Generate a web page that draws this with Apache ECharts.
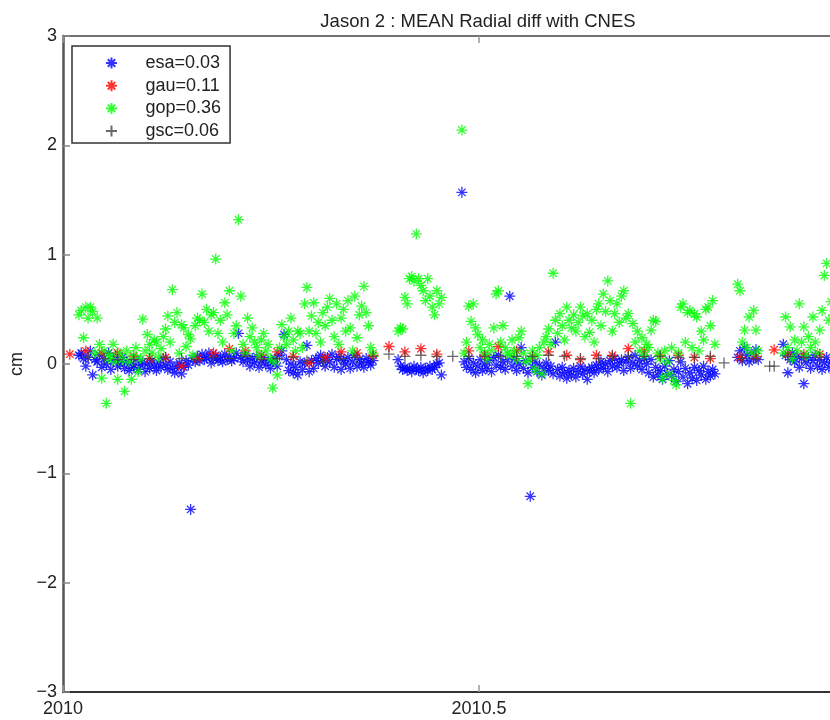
<!DOCTYPE html>
<html>
<head>
<meta charset="utf-8">
<script src="https://cdn.jsdelivr.net/npm/echarts@6.0.0/dist/echarts.min.js"></script>
<style>
  html, body { margin: 0; padding: 0; background: #fff; }
  #chart { width: 830px; height: 720px; }
</style>
</head>
<body>
<div id="chart"></div>
<script>
// days of 2010 where each daily block of esa / gop starts
const segStart = [7, 147, 175, 296, 316];

// esa (blue) daily means, one array per block
const esaVals = [
  [0.08, 0.10, 0.05, -0.02, 0.06, 0.12, -0.10, 0.04, 0.02, 0.08,
   -0.03, 0.05, 0.00, 0.10, -0.05, 0.03, 0.07, -0.02, 0.01, 0.06,
   -0.04, 0.02, -0.06, 0.00, -0.03, 0.04, -0.05, -0.01, 0.02, -0.07,
   0.00, -0.04, 0.03, -0.02, -0.06, 0.01, -0.03, 0.05, -0.01, -0.05,
   0.02, -0.04, -0.08, -0.02, 0.01, -0.09, -0.03, 0.03, -0.01, -1.33,
   0.05, 0.02, 0.07, 0.03, 0.09, 0.04, 0.06, 0.10, 0.01, 0.05,
   0.08, 0.03, 0.06, 0.02, 0.09, 0.04, 0.07, 0.03, 0.05, 0.10,
   0.28, 0.06, 0.02, 0.08, 0.04, -0.02, 0.05, 0.01, 0.07, -0.03,
   0.02, 0.06, -0.01, 0.03, -0.04, 0.02, 0.05, -0.02, 0.08, 0.12,
   0.27, 0.04, -0.06, 0.00, -0.08, -0.03, -0.10, 0.02, -0.05, 0.01,
   0.17, -0.07, 0.03, -0.04, 0.05, 0.01, 0.08, 0.03, -0.02, 0.06,
   0.02, 0.09, -0.03, 0.04, 0.07, -0.05, 0.03, 0.00, 0.06, -0.04,
   0.02, 0.08, -0.02, 0.04, 0.01, -0.03, 0.05, 0.02, -0.01, 0.03],
  [0.04, -0.02, -0.05, -0.03, -0.06, -0.04, -0.07, -0.02, -0.05, -0.06,
   -0.03, -0.08, -0.04, -0.06, -0.02, -0.05, -0.03, 0.00, 0.01, -0.10],
  [1.57, 0.02, -0.03, 0.05, -0.05, 0.01, -0.08, -0.02, 0.04, -0.06,
   0.00, -0.04, 0.03, -0.07, 0.06, -0.01, 0.08, -0.03, 0.02, -0.05,
   0.04, 0.62, -0.02, 0.05, -0.06, 0.00, 0.15, -0.04, 0.03, -0.08,
   -1.21, -0.03, 0.02, -0.07, -0.01, -0.10, -0.04, 0.01, -0.06, -0.02,
   -0.09, 0.20, -0.05, -0.11, -0.03, -0.08, -0.13, -0.06, -0.10, -0.04,
   -0.12, -0.07, -0.02, -0.09, -0.05, -0.14, -0.06, -0.03, -0.08, -0.01,
   -0.05, 0.02, -0.04, 0.00, -0.07, 0.03, -0.02, 0.05, -0.03, 0.01,
   0.04, -0.06, 0.02, 0.06, -0.04, 0.01, 0.08, -0.02, 0.03, -0.05,
   0.05, 0.00, -0.08, 0.04, -0.12, -0.03, -0.10, -0.06, -0.14, -0.02,
   -0.09, 0.03, -0.11, -0.05, -0.16, -0.07, 0.02, -0.12, -0.04, -0.18,
   -0.08, -0.13, -0.03, -0.15, -0.06, -0.10, -0.02, -0.14, -0.07, -0.11,
   -0.05, -0.09],
  [0.06, 0.12, 0.03, 0.15, 0.08, 0.02, 0.10, 0.05, 0.13, 0.04],
  [0.18, 0.08, -0.08, 0.04, 0.10, 0.02, 0.07, -0.03, 0.05, -0.18,
   0.01, 0.06, -0.04, 0.03, 0.08, -0.02, 0.04, -0.05, 0.01, 0.06,
   -0.03, 0.02, -0.06, 0.03, 0.00]
];

// gop (green) daily means, same blocks
const gopVals = [
  [0.45, 0.49, 0.24, 0.52, 0.42, 0.52, 0.48, 0.10, 0.42, 0.18,
   -0.13, 0.12, -0.36, 0.05, 0.08, 0.18, 0.02, -0.14, 0.10, 0.04,
   -0.25, 0.12, 0.02, -0.14, 0.08, 0.15, -0.07, 0.05, 0.41, 0.12,
   0.27, 0.18, 0.10, 0.22, 0.20, 0.06, 0.14, 0.25, 0.32, 0.44,
   0.20, 0.68, 0.38, 0.47, 0.10, 0.36, 0.33, 0.16, 0.27, 0.23,
   0.08, 0.35, 0.42, 0.40, 0.64, 0.38, 0.50, 0.30, 0.45, 0.47,
   0.96, 0.28, 0.40, 0.20, 0.56, 0.45, 0.67, 0.12, 0.28, 0.35,
   1.32, 0.62, 0.18, 0.10, 0.42, 0.25, 0.33, 0.20, 0.15, 0.08,
   0.22, 0.28, 0.12, 0.18, 0.05, -0.22, 0.02, -0.10, 0.15, 0.36,
   0.25, 0.18, 0.30, 0.42, 0.22, 0.12, 0.30, 0.28, 0.15, 0.55,
   0.70, 0.30, 0.44, 0.56, 0.28, 0.38, 0.20, 0.47, 0.35, 0.52,
   0.60, 0.40, 0.25, 0.55, 0.18, 0.42, 0.50, 0.30, 0.58, 0.33,
   0.12, 0.62, 0.24, 0.45, 0.53, 0.71, 0.47, 0.35, 0.15, 0.10],
  [0.30, 0.33, 0.32, 0.61, 0.55, 0.78, 0.80, 0.76, 1.19, 0.78,
   0.72, 0.67, 0.58, 0.78, 0.62, 0.52, 0.45, 0.67, 0.55, 0.61],
  [2.14, 0.10, 0.20, 0.53, 0.39, 0.55, 0.33, 0.27, 0.15, 0.22,
   0.10, 0.05, 0.18, 0.12, 0.33, 0.64, 0.67, 0.20, 0.35, 0.15,
   0.10, 0.08, 0.22, 0.12, 0.05, 0.24, 0.30, 0.10, 0.02, -0.18,
   0.05, 0.12, -0.05, 0.08, 0.15, -0.09, 0.20, 0.25, 0.32, 0.18,
   0.83, 0.40, 0.28, 0.46, 0.35, 0.22, 0.52, 0.40, 0.33, 0.45,
   0.30, 0.38, 0.52, 0.44, 0.25, 0.46, 0.29, 0.40, 0.20, 0.50,
   0.55, 0.35, 0.64, 0.48, 0.76, 0.58, 0.30, 0.46, 0.55, 0.38,
   0.62, 0.67, 0.42, 0.46, -0.36, 0.37, 0.20, 0.30, 0.12, 0.24,
   0.08, 0.18, 0.15, 0.31, 0.40, 0.39, 0.10, 0.05, -0.13, 0.12,
   0.02, -0.09, 0.15, -0.15, -0.19, 0.10, 0.52, 0.55, 0.20, 0.47,
   0.49, 0.15, 0.46, 0.43, 0.12, 0.30, 0.22, 0.50, 0.52, 0.35,
   0.58, 0.18],
  [0.73, 0.67, 0.20, 0.31, 0.15, 0.43, 0.10, 0.49, 0.31, 0.12],
  [0.10, 0.43, 0.15, 0.34, 0.05, 0.22, 0.12, 0.55, 0.20, 0.34,
   0.08, 0.25, 0.15, 0.43, 0.20, 0.10, 0.31, 0.49, 0.81, 0.92,
   0.40, 0.57, 0.45, 0.60, 0.50]
];

// gau (red), weekly
const gauDays = [3, 10, 17, 24, 31, 38, 45, 52, 59, 66, 73, 80, 87, 94, 101, 108, 115, 122, 129, 136,
  143, 150, 157, 164, 178, 185, 191, 199, 206, 213, 221, 227, 234, 241, 248, 255, 262, 270, 277, 284,
  297, 304, 312, 318, 325, 332, 339];
const gauVals = [0.09, 0.12, 0.10, 0.10, 0.07, 0.05, 0.06, -0.02, 0.05, 0.10, 0.14, 0.12, 0.08, 0.11, 0.07, 0.01, 0.06, 0.11, 0.10, 0.08,
  0.16, 0.11, 0.14, 0.09, 0.12, 0.08, 0.16, 0.12, 0.07, 0.11, 0.08, 0.04, 0.08, 0.08, 0.14, 0.12, 0.08, 0.08, 0.06, 0.05,
  0.06, 0.07, 0.13, 0.09, 0.09, 0.09, 0.10];

// gsc (black +), weekly
const gscDays = [11, 18, 24, 31, 38, 45, 52, 59, 66, 73, 80, 87, 94, 101, 107, 114, 122, 129, 136, 143,
  150, 157, 164, 171, 178, 185, 192, 199, 206, 213, 220, 227, 235, 241, 248, 255, 262, 270, 277, 284,
  290, 298, 304, 310, 312, 318, 325, 332, 339];
const gscVals = [0.06, 0.05, 0.04, 0.04, 0.05, 0.06, 0.05, 0.04, 0.06, 0.05, 0.07, 0.04, 0.05, 0.06, 0.03, 0.02, 0.05, 0.06, 0.07, 0.09,
  0.07, 0.08, 0.07, 0.07, 0.07, 0.07, 0.07, 0.07, 0.07, 0.08, 0.07, 0.05, 0.05, 0.07, 0.07, 0.07, 0.07, 0.06, 0.06, 0.07,
  0.01, 0.05, 0.05, -0.02, -0.02, 0.07, 0.06, 0.06, 0.06];

const seriesNames = ['esa=0.03', 'gau=0.11', 'gop=0.36', 'gsc=0.06'];

const toYear = d => 2010 + d / 365;

function fromBlocks(vals) {
  const out = [];
  segStart.forEach((s, k) => {
    vals[k].forEach((v, i) => out.push([toYear(s + i), v]));
  });
  return out;
}
function fromDays(days, vals) {
  return days.map((d, i) => [toYear(d), vals[i]]);
}

const STAR = 'path://M5,0L5,10M0,5L10,5M1.6,1.6L8.4,8.4M1.6,8.4L8.4,1.6';
const PLUS = 'path://M5,0L5,10M0,5L10,5';
const FONT = 'Liberation Sans';

function marker(name, data, sym, col) {
  return {
    name: name,
    type: 'scatter',
    data: data,
    symbol: sym,
    symbolSize: 11,
    silent: true,
    itemStyle: { color: col, borderColor: col, borderWidth: 1.3, opacity: 0.8 }
  };
}

var myChart = echarts.init(document.getElementById('chart'));
myChart.setOption({
  animation: false,
  backgroundColor: '#fff',
  title: {
    text: 'Jason 2 : MEAN Radial diff with CNES',
    left: 473,
    top: 7,
    textAlign: 'center',
    textStyle: { fontFamily: FONT, fontSize: 18.5, fontWeight: 'normal', color: '#222' }
  },
  legend: {
    data: seriesNames,
    orient: 'vertical',
    left: 72,
    top: 46,
    padding: [8, 9, 3, 33],
    itemWidth: 58,
    itemHeight: 11,
    itemGap: 4.7,
    borderColor: '#333',
    borderWidth: 1.5,
    backgroundColor: '#fff',
    selectedMode: false,
    textStyle: { fontFamily: FONT, fontSize: 18, color: '#222' }
  },
  grid: { left: 63, top: 36, width: 832, height: 656, outerBoundsMode: 'none' },
  xAxis: [
    {
      type: 'value', min: 2010, max: 2011, interval: 0.5,
      axisLine: { onZero: false, lineStyle: { color: '#333', width: 2 } },
      axisTick: { inside: true, length: 7, lineStyle: { color: '#999', width: 1.5 } },
      axisLabel: { fontFamily: FONT, fontSize: 18, color: '#222', margin: 8, formatter: v => String(v) },
      splitLine: { show: false }
    },
    {
      type: 'value', position: 'top', min: 2010, max: 2011, interval: 0.5,
      axisLine: { onZero: false, lineStyle: { color: '#444', width: 1.5 } },
      axisTick: { inside: true, length: 7, lineStyle: { color: '#999', width: 1.5 } },
      axisLabel: { show: false },
      splitLine: { show: false }
    }
  ],
  yAxis: {
    type: 'value', min: -3, max: 3, interval: 1,
    name: 'cm',
    nameLocation: 'middle',
    nameGap: 29,
    nameTextStyle: { fontFamily: FONT, fontSize: 18, color: '#222' },
    axisLine: { show: true, onZero: false, lineStyle: { color: '#555', width: 2.5 } },
    axisTick: { show: true, inside: true, length: 7, lineStyle: { color: '#888', width: 1.5 } },
    axisLabel: { fontFamily: FONT, fontSize: 18, color: '#222', margin: 6,
      formatter: v => String(v).replace('-', '\u2212') },
    splitLine: { show: false }
  },
  series: [
    marker(seriesNames[0], fromBlocks(esaVals), STAR, '#0000ff'),
    marker(seriesNames[1], fromDays(gauDays, gauVals), STAR, '#ff0000'),
    marker(seriesNames[2], fromBlocks(gopVals), STAR, '#00ff00'),
    marker(seriesNames[3], fromDays(gscDays, gscVals), PLUS, '#444444')
  ]
});
</script>
</body>
</html>
